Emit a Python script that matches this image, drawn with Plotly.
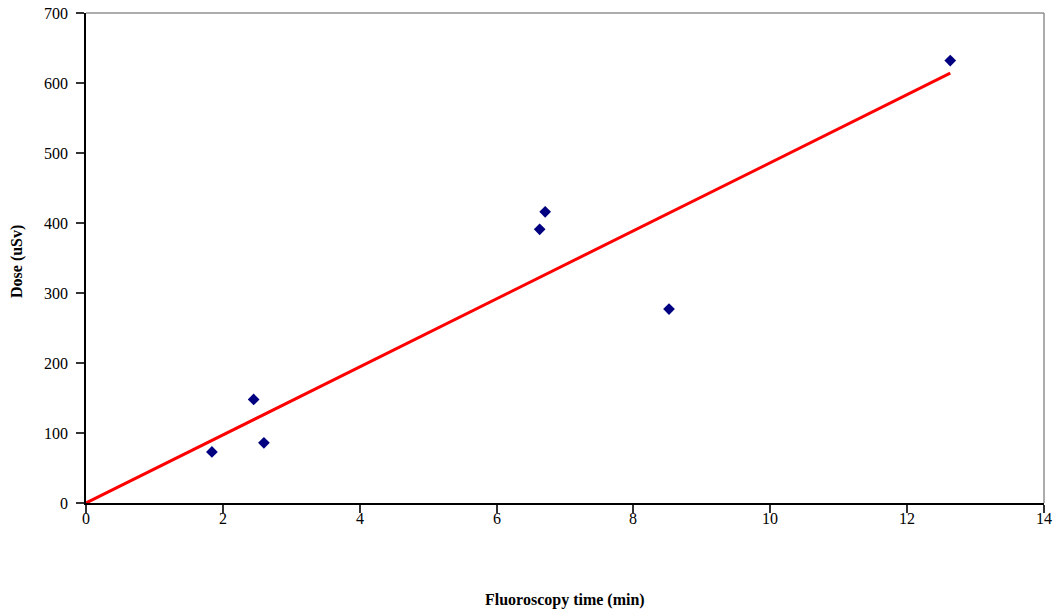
import plotly.graph_objects as go

# Fluoroscopy time (min) vs. measured dose (uSv)
fluoro_time = [1.84, 2.45, 2.60, 6.63, 6.71, 8.52, 12.63]
dose = [73, 148, 86, 391, 416, 277, 632]

# Linear trend line through the origin
trend_time = [0, 12.63]
trend_dose = [0, 614]

x_ticks = [0, 2, 4, 6, 8, 10, 12, 14]
y_ticks = [0, 100, 200, 300, 400, 500, 600, 700]

FONT = "Liberation Serif, Times New Roman, serif"
TICK_SIZE = 16
TITLE_SIZE = 16

fig = go.Figure()

fig.add_trace(go.Scatter(
    x=fluoro_time, y=dose, mode="markers",
    marker=dict(symbol="diamond", size=9, color="#000080"),
    showlegend=False, cliponaxis=False,
))

fig.add_trace(go.Scatter(
    x=trend_time, y=trend_dose, mode="lines",
    line=dict(color="#ff0000", width=3),
    showlegend=False, cliponaxis=False,
))

# x tick labels set just under the tick marks
x_labels = [
    dict(text=str(v), x=v, xref="x", y=0, yref="paper", yanchor="middle",
         yshift=-15, showarrow=False, font=dict(family=FONT, size=TICK_SIZE))
    for v in x_ticks
]

fig.update_layout(
    width=1060, height=616,
    margin=dict(l=86, r=16, t=13, b=113),
    paper_bgcolor="white", plot_bgcolor="white",
    font=dict(family=FONT, size=TICK_SIZE, color="black"),
    xaxis=dict(
        range=[0, 14], tickvals=x_ticks, showticklabels=False,
        showgrid=False, zeroline=False, automargin=False,
        showline=True, linecolor="black", linewidth=1.5,
        ticks="outside", ticklen=8, tickcolor="#333333", tickwidth=1.5,
    ),
    yaxis=dict(
        range=[0, 700], tickvals=y_ticks, showgrid=False, zeroline=False,
        automargin=False,
        showline=True, linecolor="black", linewidth=1.5,
        ticks="outside", ticklen=8, tickcolor="#333333", tickwidth=1.5,
        ticklabelstandoff=5,
        tickfont=dict(family=FONT, size=TICK_SIZE),
    ),
    shapes=[
        # grey top and right borders of the plot area
        dict(type="line", xref="paper", yref="paper", x0=0, x1=1, y0=1, y1=1,
             line=dict(color="#909090", width=1.5), layer="below"),
        dict(type="line", xref="paper", yref="paper", x0=1, x1=1, y0=0, y1=1,
             line=dict(color="#909090", width=1.5), layer="below"),
    ],
    annotations=x_labels + [
        dict(text="<b>Fluoroscopy time (min)</b>", xref="paper", yref="paper",
             x=0.5, y=0, yanchor="middle", yshift=-97, showarrow=False,
             font=dict(family=FONT, size=TITLE_SIZE)),
        dict(text="<b>Dose (uSv)</b>", xref="paper", yref="paper",
             x=0, xanchor="center", xshift=-69, y=0.5, yanchor="middle",
             yshift=-4, textangle=-90, showarrow=False,
             font=dict(family=FONT, size=TITLE_SIZE)),
    ],
)

fig.write_html("out.html")
